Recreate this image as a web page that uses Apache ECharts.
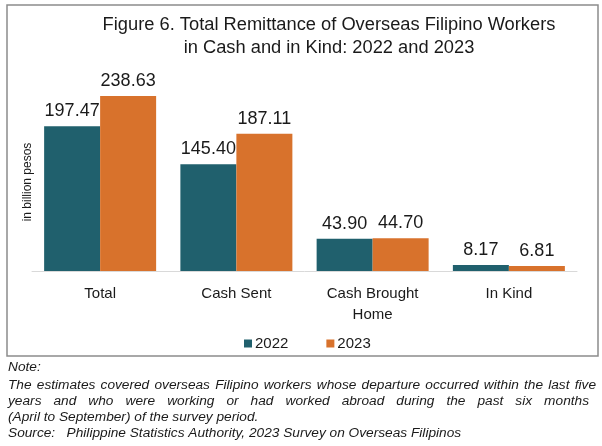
<!DOCTYPE html>
<html>
<head>
<meta charset="utf-8">
<script src="https://cdn.jsdelivr.net/npm/echarts@6/dist/echarts.min.js"></script>
<style>
html,body{margin:0;padding:0;background:#fff;}
#chart{width:602px;height:446px;}
</style>
</head>
<body>
<div id="chart"></div>
<script>
// ---- data ----
const categories = ['Total', 'Cash Sent', 'Cash Brought\nHome', 'In Kind'];
const seriesNames = ['2022', '2023'];
const values2022 = [197.47, 145.40, 43.90, 8.17];
const values2023 = [238.63, 187.11, 44.70, 6.81];
const titleText = 'Figure 6. Total Remittance of Overseas Filipino Workers\nin Cash and in Kind: 2022 and 2023';
const yAxisName = 'in billion pesos';
const noteHeader = 'Note:';
const noteLines = [
  'The estimates covered overseas Filipino workers whose departure occurred within the last five',
  'years and who were working or had worked abroad during the past six months',
  '(April to September) of the survey period.'
];
const sourceLine = 'Source:   Philippine Statistics Authority, 2023 Survey on Overseas Filipinos';

// ---- styling ----
const FONT = '"Liberation Sans", Arial, sans-serif';
const TEXT = '#1a1a1a';
const colors = ['#20606d', '#d8722c'];
const noteFontSize = 13.7;
const noteFont = 'italic ' + noteFontSize + 'px ' + FONT;

const chart = echarts.init(document.getElementById('chart'), null, {renderer: 'canvas'});

// justified note lines: measure words with canvas
const mctx = document.createElement('canvas').getContext('2d');
mctx.font = noteFont;
function justifiedLine(text, x0, x1, y) {
  const words = text.split(' ');
  const widths = words.map(w => mctx.measureText(w).width);
  const total = widths.reduce((a, b) => a + b, 0);
  const gap = (x1 - x0 - total) / (words.length - 1);
  const els = [];
  let x = x0;
  words.forEach((w, i) => {
    els.push({type: 'text', x: x, y: y,
      style: {text: w, font: noteFont, fill: TEXT, verticalAlign: 'middle'}});
    x += widths[i] + gap;
  });
  return els;
}
function plainLine(text, x, y) {
  return {type: 'text', x: x, y: y,
    style: {text: text, font: noteFont, fill: TEXT, verticalAlign: 'middle'}};
}

const graphics = [
  {type: 'rect', shape: {x: 7, y: 5, width: 591, height: 351},
   style: {fill: 'none', stroke: '#8c8c8c', lineWidth: 1.5}, z: -1},
  {type: 'text', x: 28, y: 182, rotation: Math.PI / 2,
   style: {text: yAxisName, font: '12px ' + FONT, fill: TEXT, align: 'center', verticalAlign: 'middle'}}
];
graphics.push(plainLine(noteHeader, 8, 367));
graphics.push(...justifiedLine(noteLines[0], 8, 596, 385));
graphics.push(...justifiedLine(noteLines[1], 8, 589, 401));
graphics.push(plainLine(noteLines[2], 8, 417));
graphics.push(plainLine(sourceLine, 8, 433));

const labelCfg = {
  show: true, position: 'top', distance: 6,
  fontFamily: FONT, fontSize: 18, color: TEXT,
  formatter: p => p.value.toFixed(2)
};

chart.setOption({
  animation: false,
  backgroundColor: '#fff',
  title: {
    text: titleText,
    left: 324, top: 8, textAlign: 'center',
    textStyle: {fontFamily: FONT, fontSize: 18.3, fontWeight: 'normal', color: TEXT, lineHeight: 23}
  },
  legend: {
    data: seriesNames,
    left: 239, top: 331,
    icon: 'rect', itemWidth: 8, itemHeight: 8, itemGap: 38,
    textStyle: {fontFamily: FONT, fontSize: 15, color: TEXT, padding: [0, 0, 0, -2]}
  },
  grid: {left: 32, right: 25, top: 51, bottom: 175, containLabel: false},
  xAxis: {
    type: 'category', data: categories,
    axisLine: {show: true, lineStyle: {color: '#d9d9d9', width: 1}},
    axisTick: {show: false},
    axisLabel: {fontFamily: FONT, fontSize: 15, color: TEXT, margin: 12, lineHeight: 21}
  },
  yAxis: {
    type: 'value', min: 0, max: 300,
    axisLine: {show: false}, axisTick: {show: false}, axisLabel: {show: false},
    splitLine: {show: false}
  },
  series: [
    {name: seriesNames[0], type: 'bar', data: values2022, barWidth: 56, barGap: '0%',
     itemStyle: {color: colors[0]}, label: labelCfg},
    {name: seriesNames[1], type: 'bar', data: values2023, barWidth: 56, barGap: '0%',
     itemStyle: {color: colors[1]}, label: labelCfg}
  ],
  graphic: graphics
});
</script>
</body>
</html>
